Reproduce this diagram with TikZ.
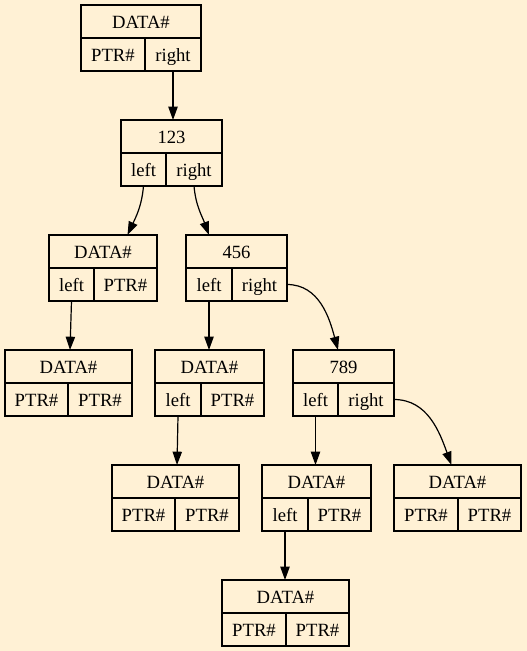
\documentclass[tikz,border=0pt]{standalone}
\usepackage{fontspec}
\setmainfont{Liberation Serif}
\usepackage{xcolor}
\definecolor{pagebg}{RGB}{255,241,213}
\usetikzlibrary{arrows.meta,calc}
\tikzset{
  rec/.style={draw=black,line width=0.9pt,anchor=north west,inner sep=0pt,outer sep=0pt,
    minimum height=24.75pt,text height=11pt,text depth=0.5pt,font=\fontsize{14}{16}\selectfont},
  arr/.style={-{Triangle[length=10pt,width=7pt]},line width=0.9pt},
}

\begin{document}
\begin{tikzpicture}[x=0.75pt,y=0.75pt]
    \fill[pagebg] (0,0) rectangle (527,-651);
    \useasboundingbox (0,0) rectangle (527,-651);
    % top record
    \node[rec,minimum width=90pt] (top) at (81,-5) {DATA\#};
    \node[rec,minimum width=48pt] (topp) at (top.south west) {PTR\#};
    \node[rec,minimum width=42pt] (topr) at (topp.north east) {right};
    % 123
    \node[rec,minimum width=75.75pt] (n123) at (121,-120) {123};
    \node[rec,minimum width=33.75pt] (n123l) at (n123.south west) {left};
    \node[rec,minimum width=42pt] (n123r) at (n123l.north east) {right};
    % left of 123
    \node[rec,minimum width=81pt] (d1) at (49,-235) {DATA\#};
    \node[rec,minimum width=33.75pt] (d1l) at (d1.south west) {left};
    \node[rec,minimum width=47.25pt] (d1p) at (d1l.north east) {PTR\#};
    \node[rec,minimum width=95.25pt] (d2) at (5,-350) {DATA\#};
    \node[rec,minimum width=47.25pt] (d2a) at (d2.south west) {PTR\#};
    \node[rec,minimum width=48pt] (d2b) at (d2a.north east) {PTR\#};
    % 456
    \node[rec,minimum width=75.75pt] (n456) at (186,-235) {456};
    \node[rec,minimum width=34.5pt] (n456l) at (n456.south west) {left};
    \node[rec,minimum width=41.25pt] (n456r) at (n456l.north east) {right};
    \node[rec,minimum width=81.75pt] (d3) at (155,-350) {DATA\#};
    \node[rec,minimum width=34.5pt] (d3l) at (d3.south west) {left};
    \node[rec,minimum width=47.25pt] (d3p) at (d3l.north east) {PTR\#};
    \node[rec,minimum width=95.25pt] (d4) at (112,-465) {DATA\#};
    \node[rec,minimum width=47.25pt] (d4a) at (d4.south west) {PTR\#};
    \node[rec,minimum width=48pt] (d4b) at (d4a.north east) {PTR\#};
    % 789
    \node[rec,minimum width=75.75pt] (n789) at (293,-350) {789};
    \node[rec,minimum width=33.75pt] (n789l) at (n789.south west) {left};
    \node[rec,minimum width=42pt] (n789r) at (n789l.north east) {right};
    \node[rec,minimum width=81.75pt] (d5) at (262,-465) {DATA\#};
    \node[rec,minimum width=34.5pt] (d5l) at (d5.south west) {left};
    \node[rec,minimum width=47.25pt] (d5p) at (d5l.north east) {PTR\#};
    \node[rec,minimum width=95.25pt] (d6) at (222,-580) {DATA\#};
    \node[rec,minimum width=48pt] (d6a) at (d6.south west) {PTR\#};
    \node[rec,minimum width=47.25pt] (d6b) at (d6a.north east) {PTR\#};
    \node[rec,minimum width=95.25pt] (d7) at (394,-465) {DATA\#};
    \node[rec,minimum width=48pt] (d7a) at (d7.south west) {PTR\#};
    \node[rec,minimum width=47.25pt] (d7b) at (d7a.north east) {PTR\#};
    % pointers
    \draw[arr] (topr.south) -- (topr.south |- n123.north);
    \draw[arr] (n123l.south) to[out=-95,in=65] ($(d1p.north |- d1.north)+(2,0)$);
    \draw[arr] (n123r.south) to[out=-85,in=110] (n456l.north |- n456.north);
    \draw[arr] (d1l.south) -- ($(d1l.south |- d2.north)+(-1.5,0)$);
    \draw[arr] (n456l.south) -- (n456l.south |- d3.north);
    \draw[arr] (d3l.south) -- ($(d3l.south |- d4.north)+(-1,0)$);
    \draw[arr] (n456r.east) to[out=0,in=105] (n789l.north east |- n789.north);
    \draw[arr] (n789l.south) -- (n789l.south |- d5.north);
    \draw[arr] (d5l.south) -- (d5l.south |- d6.north);
    \draw[arr] (n789r.east) to[out=0,in=110] ($(d7.north)+(-6,0)$);
\end{tikzpicture}
\end{document}
